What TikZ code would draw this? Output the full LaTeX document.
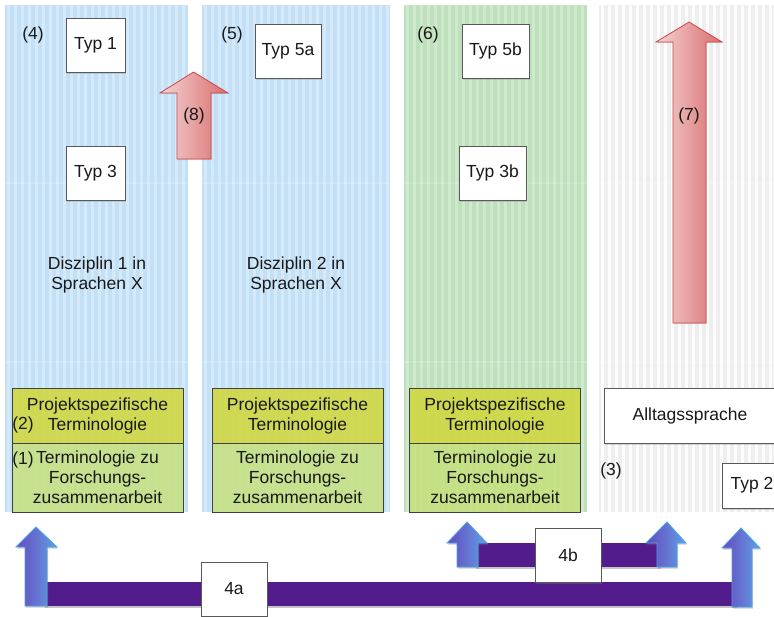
\documentclass[tikz,border=0pt]{standalone}
\usepackage{fontspec}
\setmainfont{Liberation Sans}
\usetikzlibrary{shadows}

\definecolor{blueBase}{RGB}{196,224,246}
\definecolor{blueStripe}{RGB}{212,234,250}
\definecolor{greenBase}{RGB}{190,224,188}
\definecolor{greenStripe}{RGB}{206,233,204}
\definecolor{greyBase}{RGB}{238,238,238}
\definecolor{greyStripe}{RGB}{252,252,252}
\definecolor{termYellow}{RGB}{208,216,66}
\definecolor{termGreen}{RGB}{198,224,124}
\definecolor{barPurple}{RGB}{82,28,140}
\definecolor{arrowBlueL}{RGB}{104,72,192}
\definecolor{arrowBlueR}{RGB}{96,160,228}
\definecolor{arrowBlueEdge}{RGB}{70,165,232}
\definecolor{arrowRedL}{RGB}{244,212,212}
\definecolor{arrowRedR}{RGB}{218,108,108}
\definecolor{arrowRedEdge}{RGB}{205,70,70}

% striped background column: left x, right x, bottom y, base colour, stripe colour
\newcommand\stripecolumn[5]{%
  \begin{scope}
    \clip (#1,5) rectangle (#2,#3);
    \fill[#4] (#1,5) rectangle (#2,#3);
    \foreach \i in {0,...,27}{\fill[#5] ({#1+2+7*\i},5) rectangle ({#1+4.5+7*\i},#3);}
    \fill[white,opacity=0.18] (#1,182) rectangle (#2,184);
    \fill[white,opacity=0.18] (#1,361) rectangle (#2,363);
  \end{scope}}

\tikzset{
  every node/.style={font=\fontsize{17.5}{20}\selectfont, text=black!90},
  typbox/.style={draw=black!65, fill=white, line width=0.7pt, inner sep=0pt,
    minimum height=54pt, drop shadow={shadow xshift=1pt,shadow yshift=-1.5pt,opacity=0.3}},
  projbox/.style={draw=black!75, line width=0.7pt, fill=termYellow, fill opacity=0.9,
    text opacity=1, inner sep=0pt, minimum width=171pt, minimum height=55pt, align=center},
  termbox/.style={draw=black!75, line width=0.7pt, fill=termGreen, fill opacity=0.85,
    text opacity=1, inner sep=0pt, minimum width=171pt, minimum height=69pt, align=center},
  redarrow/.style={draw=arrowRedEdge, line width=0.8pt, left color=arrowRedL,
    right color=arrowRedR, drop shadow={shadow xshift=1pt,shadow yshift=-1pt,opacity=0.25}},
  bluearrow/.style={draw=arrowBlueEdge, line width=0.8pt, left color=arrowBlueL,
    right color=arrowBlueR, drop shadow={shadow xshift=1pt,shadow yshift=-1.5pt,opacity=0.4}},
  purplebar/.style={fill=barPurple, drop shadow={shadow xshift=0.5pt,shadow yshift=-1.5pt,opacity=0.45}},
  tag/.style={inner sep=0pt},
  plain/.style={inner sep=0pt, align=center}
}

\begin{document}
\begin{tikzpicture}[x=1pt,y=-1pt]
\useasboundingbox (0,0) rectangle (774,616);
\fill[white] (0,0) rectangle (774,616);

% background columns
\stripecolumn{5}{188}{512}{blueBase}{blueStripe}
\stripecolumn{202}{390}{512}{blueBase}{blueStripe}
\stripecolumn{404}{587}{512}{greenBase}{greenStripe}
\stripecolumn{599}{774}{512}{greyBase}{greyStripe}

% column labels
\node[tag] (l4) at (33,35) {(4)};
\node[tag] (l5) at (232,35) {(5)};
\node[tag] (l6) at (428,35) {(6)};
\node[tag] (l3) at (611,471) {(3)};

% type boxes
\node[typbox, minimum width=59pt] (typ1) at (95.5,45) {Typ 1};
\node[typbox, minimum width=59pt] (typ3) at (95.5,173) {Typ 3};
\node[typbox, minimum width=66pt] (typ5a) at (288,51) {Typ 5a};
\node[typbox, minimum width=67pt] (typ5b) at (495.5,51) {Typ 5b};
\node[typbox, minimum width=67pt] (typ3b) at (492.5,173) {Typ 3b};

% discipline captions
\node[plain] (dis1) at (97,275) {Disziplin 1 in\\Sprachen X};
\node[plain] (dis2) at (296,275) {Disziplin 2 in\\Sprachen X};

% terminology stacks
\node[projbox] (proj1) at (97.5,415.5) {Projektspezifische\\Terminologie};
\node[termbox] (term1) at (97.5,477.5) {Terminologie zu\\Forschungs-\\zusammenarbeit};
\node[projbox] (proj2) at (297.5,415.5) {Projektspezifische\\Terminologie};
\node[termbox] (term2) at (297.5,477.5) {Terminologie zu\\Forschungs-\\zusammenarbeit};
\node[projbox] (proj3) at (495,415.5) {Projektspezifische\\Terminologie};
\node[termbox] (term3) at (495,477.5) {Terminologie zu\\Forschungs-\\zusammenarbeit};
\node[tag, anchor=east] (l2) at (34,425) {(2)};
\node[tag, anchor=east] (l1) at (34,460) {(1)};

% everyday language column
\node[typbox, minimum width=172pt, minimum height=55pt] (alltag) at (690,415.5) {Alltagssprache};
\node[typbox, minimum width=60pt, minimum height=45pt] (typ2) at (752,485.5) {Typ 2};

% red block arrows
\draw[redarrow] (177,159) -- (177,93) -- (160,93) -- (193.5,72) -- (228,93) -- (211,93) -- (211,159) -- cycle;
\node[tag] (l8) at (194,116) {(8)};
\draw[redarrow] (673,323) -- (673,42) -- (656,42) -- (689,22) -- (722,42) -- (706,42) -- (706,323) -- cycle;
\node[tag] (l7) at (689,116) {(7)};

% bottom bars with upward arrows
\fill[purplebar] (44,582) rectangle (736,606);
\fill[purplebar] (475,543) rectangle (660,567);
\draw[bluearrow] (25,606) -- (25,547) -- (16,547) -- (36,527) -- (57,547) -- (47,547) -- (47,606) -- cycle;
\draw[bluearrow] (732,607) -- (732,548) -- (722,548) -- (741,528) -- (760,548) -- (752,548) -- (752,607) -- cycle;
\draw[bluearrow] (457,567) -- (457,543) -- (447,543) -- (467,522) -- (487,543) -- (478,543) -- (478,567) -- cycle;
\draw[bluearrow] (657,567) -- (657,543) -- (646,543) -- (667,522) -- (686,543) -- (677,543) -- (677,567) -- cycle;

\node[typbox, minimum width=66pt] (b4b) at (568,555) {4b};
\node[typbox, minimum width=66pt] (b4a) at (234,589) {4a};
\end{tikzpicture}
\end{document}
